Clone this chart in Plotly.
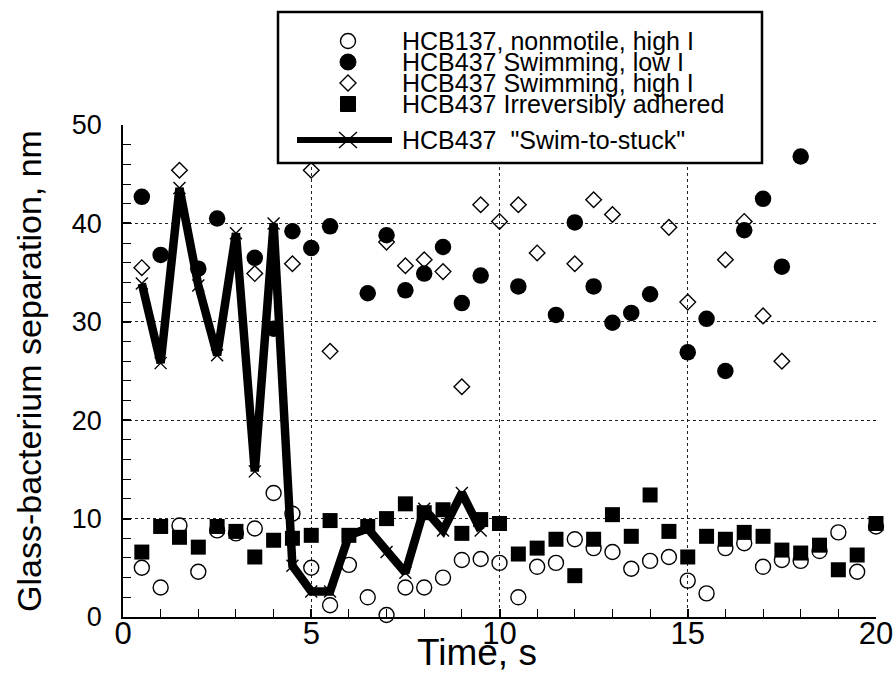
import plotly.graph_objects as go

# ---------------- data ----------------
nonmotile_x = [0.5, 1, 1.5, 2, 2.5, 3, 3.5, 4, 4.5, 5, 5.5, 6, 6.5, 7, 7.5, 8, 8.5, 9, 9.5, 10,
               10.5, 11, 11.5, 12, 12.5, 13, 13.5, 14, 14.5, 15, 15.5, 16, 16.5, 17, 17.5, 18, 18.5, 19, 19.5, 20]
nonmotile_y = [5.0, 3.0, 9.3, 4.6, 8.8, 8.5, 9.0, 12.6, 10.5, 5.0, 1.2, 5.3, 2.0, 0.2, 3.0, 3.0, 4.0, 5.8, 5.9, 5.5,
               2.0, 5.1, 5.5, 7.9, 7.0, 6.6, 4.9, 5.7, 6.1, 3.7, 2.4, 7.0, 7.5, 5.1, 5.8, 5.7, 6.7, 8.6, 4.6, 9.2]

swim_low_x = [0.5, 1, 2, 2.5, 3.5, 4, 4.5, 5, 5.5, 6.5, 7, 7.5, 8, 8.5, 9, 9.5, 10.5, 11.5, 12, 12.5,
              13, 13.5, 14, 15, 15.5, 16, 16.5, 17, 17.5, 18]
swim_low_y = [42.7, 36.8, 35.4, 40.5, 36.5, 29.3, 39.2, 37.5, 39.7, 32.9, 38.8, 33.2, 34.9, 37.6, 31.9, 34.7, 33.6, 30.7, 40.1, 33.6,
              29.9, 30.9, 32.8, 26.9, 30.3, 25.0, 39.3, 42.5, 35.6, 46.8]

swim_high_x = [0.5, 1.5, 3.5, 4.5, 5, 5.5, 7, 7.5, 8, 8.5, 9, 9.5, 10, 10.5, 11, 12, 12.5, 13,
               14.5, 15, 16, 16.5, 17, 17.5]
swim_high_y = [35.5, 45.4, 34.9, 35.9, 45.4, 27.0, 38.1, 35.7, 36.3, 35.1, 23.4, 41.9, 40.2, 41.9, 37.0, 35.9, 42.4, 40.9,
               39.6, 32.0, 36.3, 40.2, 30.6, 26.0]

adhered_x = [0.5, 1, 1.5, 2, 2.5, 3, 3.5, 4, 4.5, 5, 5.5, 6, 6.5, 7, 7.5, 8, 8.5, 9, 9.5, 10,
             10.5, 11, 11.5, 12, 12.5, 13, 13.5, 14, 14.5, 15, 15.5, 16, 16.5, 17, 17.5, 18, 18.5, 19, 19.5, 20]
adhered_y = [6.6, 9.2, 8.1, 7.1, 9.2, 8.7, 6.1, 7.8, 8.0, 8.3, 9.8, 8.3, 9.2, 10.0, 11.5, 10.6, 10.9, 8.5, 9.9, 9.5,
             6.4, 7.0, 7.9, 4.2, 7.9, 10.4, 8.2, 12.4, 8.7, 6.1, 8.2, 7.9, 8.6, 8.2, 6.8, 6.5, 7.3, 4.8, 6.3, 9.5]

stuck_x = [0.5, 1, 1.5, 2, 2.5, 3, 3.5, 4, 4.5, 5, 5.5, 6, 6.5, 7, 7.5, 8, 8.5, 9, 9.5]
stuck_y = [33.9, 25.8, 43.6, 33.7, 26.6, 39.0, 14.8, 40.0, 5.2, 2.6, 2.6, 8.3, 9.0, 6.6, 4.5, 11.0, 8.8, 12.6, 8.8]

legend_labels = ["HCB137, nonmotile, high I", "HCB437 Swimming, low I", "HCB437 Swimming, high I",
                 "HCB437 Irreversibly adhered", "HCB437  \"Swim-to-stuck\""]

x_ticks = [0, 5, 10, 15, 20]
y_ticks = [0, 10, 20, 30, 40, 50]

# ---------------- layout geometry (pixels) ----------------
W_FIG, H_FIG = 895, 673
L, R, T, B = 123, 19, 125, 56
PW, PH = W_FIG - L - R, H_FIG - T - B
FONT = "Liberation Sans, Arial, Helvetica, sans-serif"


def fx(px):
    return (px - L) / PW


def fy(py):
    return (T + PH - py) / PH


fig = go.Figure()

fig.add_trace(go.Scatter(x=nonmotile_x, y=nonmotile_y, mode="markers", name=legend_labels[0],
                         marker=dict(symbol="circle-open", size=15, color="black", line=dict(width=1.4)),
                         cliponaxis=False))
fig.add_trace(go.Scatter(x=swim_high_x, y=swim_high_y, mode="markers", name=legend_labels[2],
                         marker=dict(symbol="diamond-open", size=12, color="black", line=dict(width=1.4)),
                         cliponaxis=False))
fig.add_trace(go.Scatter(x=swim_low_x, y=swim_low_y, mode="markers", name=legend_labels[1],
                         marker=dict(symbol="circle", size=16.5, color="black"),
                         cliponaxis=False))
fig.add_trace(go.Scatter(x=adhered_x, y=adhered_y, mode="markers", name=legend_labels[3],
                         marker=dict(symbol="square", size=15, color="black"),
                         cliponaxis=False))
fig.add_trace(go.Scatter(x=stuck_x, y=stuck_y, mode="lines+markers", name=legend_labels[4],
                         line=dict(color="black", width=8.5),
                         marker=dict(symbol="x-thin", size=12, color="black",
                                     line=dict(width=1.4, color="black")),
                         cliponaxis=False))

# ---------------- manual legend (tight rows like the original) ----------------
box = dict(x0=278, x1=762, y0=12, y1=163)
fig.add_shape(type="rect", xref="paper", yref="paper",
              x0=fx(box["x0"]), x1=fx(box["x1"]), y0=fy(box["y1"]), y1=fy(box["y0"]),
              line=dict(color="black", width=2.5), fillcolor="white", layer="above")

row_y = [41, 62, 83, 104, 140]
sym_x = 348
text_x = 400
r = 7.5
for i, (lab, yy) in enumerate(zip(legend_labels, row_y)):
    fig.add_annotation(xref="paper", yref="paper", x=fx(text_x), y=fy(yy), text=lab,
                       showarrow=False, xanchor="left", yanchor="middle",
                       font=dict(family=FONT, size=25, color="black"))
    common = dict(xref="paper", yref="paper", xsizemode="pixel", ysizemode="pixel",
                  xanchor=fx(sym_x), yanchor=fy(yy), layer="above")
    if i == 0:
        fig.add_shape(type="circle", x0=-r, x1=r, y0=-r, y1=r,
                      line=dict(color="black", width=1.4), fillcolor="white", **common)
    elif i == 1:
        fig.add_shape(type="circle", x0=-r - 0.5, x1=r + 0.5, y0=-r - 0.5, y1=r + 0.5,
                      line=dict(color="black", width=1), fillcolor="black", **common)
    elif i == 2:
        fig.add_shape(type="path", path="M0,-8 L8,0 L0,8 L-8,0 Z",
                      line=dict(color="black", width=1.4), fillcolor="white", **common)
    elif i == 3:
        fig.add_shape(type="rect", x0=-r, x1=r, y0=-r, y1=r,
                      line=dict(color="black", width=1), fillcolor="black", **common)
    else:
        fig.add_shape(type="line", xref="paper", yref="paper", x0=fx(297), x1=fx(392),
                      y0=fy(yy), y1=fy(yy), line=dict(color="black", width=6), layer="above")
        fig.add_shape(type="path", path="M-9,-8 L9,8 M-9,8 L9,-8",
                      line=dict(color="black", width=1.4), **common)

# x-axis title placed like the original (slightly left of centre, at the bottom edge)
fig.add_annotation(xref="paper", yref="paper", x=fx(477), y=fy(675), text="Time, s",
                   showarrow=False, xanchor="center", yanchor="bottom",
                   font=dict(family=FONT, size=37, color="black"))

grid = dict(showgrid=True, gridcolor="#222222", gridwidth=1, griddash="3px,3px")
fig.update_xaxes(range=[0, 20], tickvals=x_ticks, ticks="inside", ticklen=8, tickwidth=1.5,
                 tickcolor="black", showline=True, linecolor="black", linewidth=1.5, zeroline=False,
                 minor=dict(dtick=1, ticks="inside", ticklen=8, tickwidth=1.2, tickcolor="black", showgrid=False),
                 tickfont=dict(family=FONT, size=31, color="black"), ticklabelstandoff=-12,
                 ticklabeloverflow="allow",
                 **grid)
fig.update_yaxes(range=[0, 50], tickvals=y_ticks, ticks="inside", ticklen=8, tickwidth=1.5,
                 tickcolor="black", showline=True, linecolor="black", linewidth=1.5, zeroline=False,
                 minor=dict(dtick=2, ticks="inside", ticklen=8, tickwidth=1.2, tickcolor="black", showgrid=False),
                 tickfont=dict(family=FONT, size=27, color="black"), ticklabelstandoff=14,
                 title=dict(text="Glass-bacterium separation, nm", font=dict(family=FONT, size=34, color="black"),
                            standoff=20),
                 **grid)

fig.update_layout(width=W_FIG, height=H_FIG, margin=dict(l=L, r=R, t=T, b=B, autoexpand=False),
                  plot_bgcolor="white", paper_bgcolor="white", showlegend=False,
                  font=dict(family=FONT, color="black"))

fig.write_html("out.html", config={"displayModeBar": False},
               post_script="document.body.style.margin='0px';document.body.style.overflow='hidden';")
